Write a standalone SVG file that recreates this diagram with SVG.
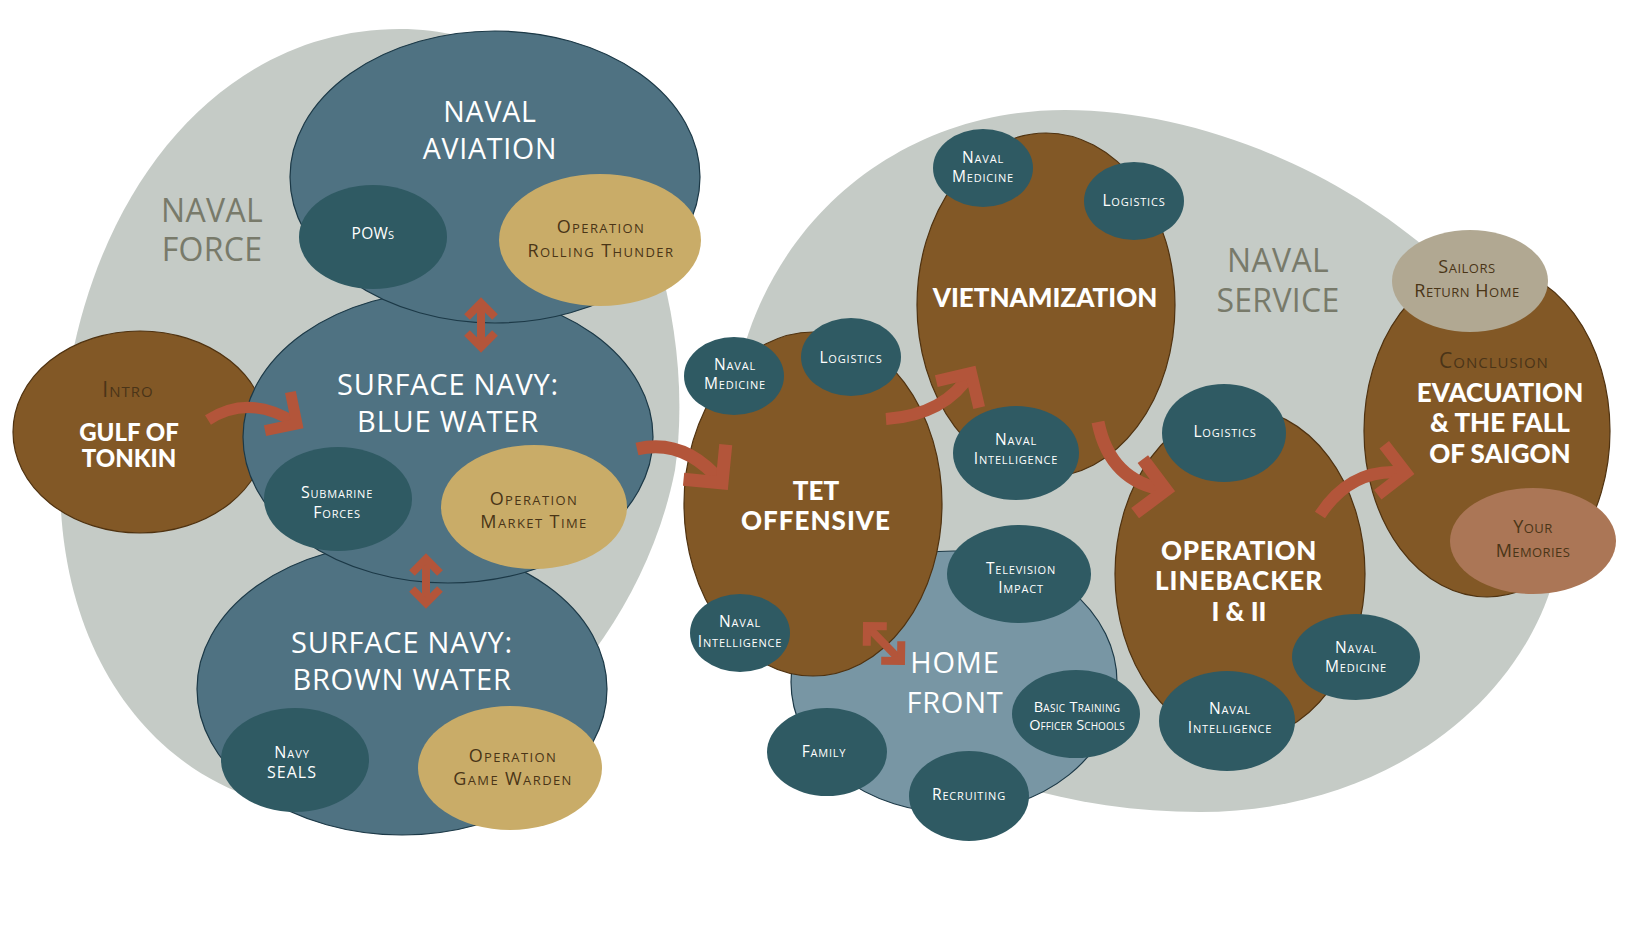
<svg xmlns="http://www.w3.org/2000/svg" width="1630" height="936" viewBox="0 0 1630 936">
<style>
.gray{fill:#c5cbc6}
.slate{fill:#4f7282;stroke:#1c3947;stroke-width:1.2}
.home{fill:#7896a4;stroke:#1c3947;stroke-width:1.2}
.teal{fill:#2f5a63}
.tan{fill:#c9ac68}
.brown{fill:#825826;stroke:#4f3210;stroke-width:1.2}
.sailors{fill:#b1a892}
.memories{fill:#ab7656}
text{text-anchor:middle}
.title{font-family:"Open Sans","Noto Sans","DejaVu Sans",sans-serif;fill:#fff;font-size:29px;letter-spacing:0.8px}
.label{font-family:"Open Sans","Noto Sans","DejaVu Sans",sans-serif;font-size:32px;fill:#787a6a;letter-spacing:0.3px}
.sc{font-family:"Open Sans","Noto Sans","DejaVu Sans",sans-serif;font-variant:small-caps;font-size:15.5px;fill:#fff;letter-spacing:0.8px}
.op{font-family:"Open Sans","Noto Sans","DejaVu Sans",sans-serif;font-variant:small-caps;font-size:18px;fill:#4a3517;letter-spacing:1.4px}
.sc2{font-family:"Open Sans","Noto Sans","DejaVu Sans",sans-serif;font-variant:small-caps;font-size:18px;fill:#4a3517;letter-spacing:0.5px}
.ic{font-family:"Open Sans","Noto Sans","DejaVu Sans",sans-serif;font-variant:small-caps;font-size:21px;fill:#4a3418;letter-spacing:1px}
.bold{font-family:Lato,Roboto,"Liberation Sans",sans-serif;font-weight:900;font-size:26px;fill:#fff}
.arrow{fill:none;stroke:#b3553a;stroke-linecap:butt;stroke-linejoin:miter}
</style>
<defs>
<marker id="chev" markerUnits="strokeWidth" orient="auto" overflow="visible" markerWidth="1" markerHeight="1" refX="0" refY="0">
<path d="M-2.1,-2.1 L0,0 L-2.1,2.1" fill="none" stroke="#b3553a" stroke-width="1" stroke-linejoin="miter"/>
</marker>
<marker id="dchev" markerUnits="strokeWidth" orient="auto-start-reverse" overflow="visible" markerWidth="1" markerHeight="1" refX="0" refY="0">
<path d="M-1.75,-1.75 L0,0 L-1.75,1.75" fill="none" stroke="#b3553a" stroke-width="1" stroke-linejoin="miter"/>
</marker>
</defs>

<g id="naval-force-area">
<path class="gray" d="M400,29 C200,29 60,230 60,480 C60,690 190,810 330,810 C480,810 640,650 675,470 C700,300 620,29 400,29 Z"/>
<text class="label" x="212" y="222">NAVAL</text>
<text class="label" x="212" y="261">FORCE</text>
</g>
<g id="naval-service-area">
<path class="gray" d="M728,460 C728,250 880,110 1065,110 C1300,110 1565,300 1565,500 C1565,680 1400,812 1200,812 C960,812 728,680 728,460 Z"/>
<text class="label" x="1278" y="272">NAVAL</text>
<text class="label" x="1278" y="312">SERVICE</text>
</g>

<g id="intro">
<ellipse class="brown" cx="140" cy="432" rx="127" ry="101"/>
<text class="ic" x="128" y="397">Intro</text>
<text class="bold" style="font-size:24px" x="129" y="441">GULF OF</text>
<text class="bold" style="font-size:24px" x="129" y="467">TONKIN</text>
</g>

<g id="brown-water">
<ellipse class="slate" cx="402" cy="689" rx="205" ry="146"/>
<text class="title" x="402" y="653">SURFACE NAVY:</text>
<text class="title" x="402" y="690">BROWN WATER</text>
<ellipse class="teal" cx="295" cy="760" rx="74" ry="52"/>
<text class="sc" style="font-size:16px;letter-spacing:1px" x="292" y="758">Navy</text>
<text class="sc" style="font-size:16px;letter-spacing:1px" x="292" y="778">SEALS</text>
<ellipse class="tan" cx="510" cy="768" rx="92" ry="62"/>
<text class="op" x="513" y="762">Operation</text>
<text class="op" x="513" y="785">Game Warden</text>
</g>

<g id="blue-water">
<ellipse class="slate" cx="448" cy="437" rx="205" ry="146"/>
<text class="title" x="448" y="395">SURFACE NAVY:</text>
<text class="title" x="448" y="432">BLUE WATER</text>
<ellipse class="teal" cx="338" cy="499" rx="74" ry="52"/>
<text class="sc" style="font-size:16px" x="337" y="498">Submarine</text>
<text class="sc" style="font-size:16px" x="337" y="518">Forces</text>
<ellipse class="tan" cx="534" cy="507" rx="93" ry="62"/>
<text class="op" x="534" y="505">Operation</text>
<text class="op" x="534" y="528">Market Time</text>
</g>

<g id="naval-aviation">
<ellipse class="slate" cx="495" cy="177" rx="205" ry="146"/>
<text class="title" style="font-size:28.5px" x="490" y="122">NAVAL</text>
<text class="title" style="font-size:28.5px" x="490" y="159">AVIATION</text>
<ellipse class="teal" cx="373" cy="237" rx="74" ry="52"/>
<text class="sc" style="letter-spacing:0.3px" x="373" y="239">POWs</text>
<ellipse class="tan" cx="600" cy="240" rx="101" ry="66"/>
<text class="op" x="601" y="233">Operation</text>
<text class="op" x="601" y="257">Rolling Thunder</text>
</g>

<g id="home-front">
<ellipse class="home" cx="954" cy="682" rx="163" ry="131"/>
<text class="title" x="955" y="673">HOME</text>
<text class="title" x="955" y="713">FRONT</text>
<ellipse class="teal" cx="1019" cy="574" rx="72" ry="49"/>
<text class="sc" x="1021" y="574">Television</text>
<text class="sc" x="1021" y="593">Impact</text>
<ellipse class="teal" cx="1076" cy="714" rx="64" ry="44"/>
<text class="sc" style="font-size:14.5px;letter-spacing:0.3px" x="1077" y="712">Basic Training</text>
<text class="sc" style="font-size:14.5px;letter-spacing:0.1px" x="1077" y="730">Officer Schools</text>
<ellipse class="teal" cx="969" cy="796" rx="60" ry="45"/>
<text class="sc" x="969" y="800">Recruiting</text>
<ellipse class="teal" cx="827" cy="752" rx="60" ry="44"/>
<text class="sc" x="824" y="757">Family</text>
</g>

<g id="tet-offensive">
<ellipse class="brown" cx="813" cy="504" rx="129" ry="172"/>
<text class="bold" x="816" y="500">TET</text>
<text class="bold" style="letter-spacing:1px" x="816" y="530">OFFENSIVE</text>
<ellipse class="teal" cx="734" cy="376" rx="50" ry="39"/>
<text class="sc" x="735" y="370">Naval</text>
<text class="sc" x="735" y="389">Medicine</text>
<ellipse class="teal" cx="851" cy="357" rx="50" ry="39"/>
<text class="sc" x="851" y="363">Logistics</text>
<ellipse class="teal" cx="740" cy="633" rx="50" ry="39"/>
<text class="sc" x="740" y="627">Naval</text>
<text class="sc" x="740" y="647">Intelligence</text>
</g>

<g id="vietnamization">
<ellipse class="brown" cx="1046" cy="305" rx="129" ry="172"/>
<text class="bold" x="1045" y="307">VIETNAMIZATION</text>
<ellipse class="teal" cx="983" cy="168" rx="50" ry="39"/>
<text class="sc" x="983" y="163">Naval</text>
<text class="sc" x="983" y="182">Medicine</text>
<ellipse class="teal" cx="1134" cy="201" rx="50" ry="39"/>
<text class="sc" x="1134" y="206">Logistics</text>
<ellipse class="teal" cx="1016" cy="453" rx="63" ry="47"/>
<text class="sc" x="1016" y="445">Naval</text>
<text class="sc" x="1016" y="464">Intelligence</text>
</g>

<g id="linebacker">
<ellipse class="brown" cx="1240" cy="574" rx="125" ry="166"/>
<text class="bold" style="letter-spacing:0.6px" x="1239" y="560">OPERATION</text>
<text class="bold" style="letter-spacing:1px" x="1239" y="590">LINEBACKER</text>
<text class="bold" x="1239" y="621">I &amp; II</text>
<ellipse class="teal" cx="1224" cy="433" rx="62" ry="49"/>
<text class="sc" x="1225" y="437">Logistics</text>
<ellipse class="teal" cx="1356" cy="657" rx="64" ry="43"/>
<text class="sc" x="1356" y="653">Naval</text>
<text class="sc" x="1356" y="672">Medicine</text>
<ellipse class="teal" cx="1227" cy="721" rx="68" ry="50"/>
<text class="sc" x="1230" y="714">Naval</text>
<text class="sc" x="1230" y="733">Intelligence</text>
</g>

<g id="conclusion">
<ellipse class="brown" cx="1487" cy="431" rx="123" ry="166"/>
<text class="ic" x="1494" y="368">Conclusion</text>
<text class="bold" x="1500" y="402">EVACUATION</text>
<text class="bold" x="1500" y="432">&amp; THE FALL</text>
<text class="bold" x="1500" y="463">OF SAIGON</text>
<ellipse class="sailors" cx="1470" cy="281" rx="78" ry="51"/>
<text class="sc2" x="1467" y="273">Sailors</text>
<text class="sc2" x="1467" y="297">Return Home</text>
<ellipse class="memories" cx="1533" cy="541" rx="83" ry="53"/>
<text class="sc2" style="letter-spacing:0.4px" x="1533" y="533">Your</text>
<text class="sc2" style="letter-spacing:0.4px" x="1533" y="557">Memories</text>
</g>

<g id="connectors">
<path class="arrow" stroke-width="11" marker-end="url(#chev)" d="M208,420 Q250,393 297,424"/>
<path class="arrow" stroke-width="13" marker-end="url(#chev)" d="M637,449 Q685,438 722,483"/>
<path class="arrow" stroke-width="12" marker-end="url(#chev)" d="M886,419 Q945,415 971,373"/>
<path class="arrow" stroke-width="13" marker-end="url(#chev)" d="M1098,422 Q1110,482 1166,490"/>
<path class="arrow" stroke-width="12" marker-end="url(#chev)" d="M1320,515 Q1352,466 1406,473"/>
<path class="arrow" stroke-width="8" marker-start="url(#dchev)" marker-end="url(#dchev)" d="M481,303 L481,347"/>
<path class="arrow" stroke-width="8" marker-start="url(#dchev)" marker-end="url(#dchev)" d="M426,559 L426,603"/>
<path class="arrow" stroke-width="8" marker-start="url(#dchev)" marker-end="url(#dchev)" d="M867,626 L901,661"/>
</g>
</svg>
